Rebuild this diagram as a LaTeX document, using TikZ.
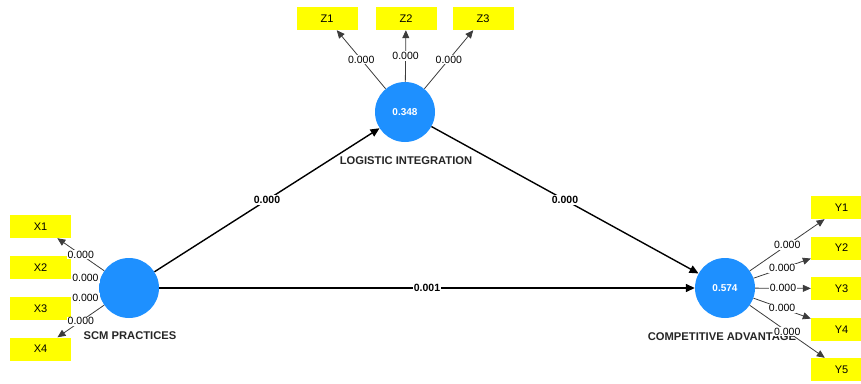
\documentclass[tikz,border=0pt]{standalone}
\usepackage{fontspec}
\setmainfont{Liberation Sans}
\usetikzlibrary{arrows.meta}
\definecolor{lvblue}{RGB}{30,144,255}
\definecolor{indyel}{RGB}{255,255,0}
\definecolor{loadgray}{RGB}{60,60,60}
\tikzset{
  latent/.style={circle, fill=lvblue, minimum size=60pt, inner sep=0pt, text=white, font=\fontsize{10}{11}\selectfont\bfseries},
  indbox/.style={rectangle, fill=indyel, minimum width=61pt, minimum height=23pt, inner sep=0pt, font=\fontsize{11}{12}\selectfont},
  lvname/.style={font=\fontsize{11.2}{12}\selectfont\bfseries, text=black!85, inner sep=0pt},
  structarrow/.style={draw=black, line width=1.4pt, -{Triangle[length=9pt,width=8pt]}},
  loadarrow/.style={draw=loadgray, line width=0.8pt, -{Triangle[length=8pt,width=7pt]}},
  coeflabel/.style={fill=white, inner sep=1pt, font=\fontsize{10.5}{11}\selectfont\bfseries},
  loadlabel/.style={fill=white, inner sep=1pt, font=\fontsize{10.5}{11}\selectfont}
}
\begin{document}
\begin{tikzpicture}[x=1pt, y=-1pt]
\useasboundingbox (0,0) rectangle (861,383);
% latent variables
\node[latent] (scm) at (129,288) {};
\node[latent] (li) at (405,112) {0.348};
\node[latent] (ca) at (725,288) {0.574};
% names
\node[lvname] (scmname) at (130,336) {SCM PRACTICES};
\node[lvname] (liname) at (406,161) {LOGISTIC INTEGRATION};
\node[lvname] (caname) at (722,337) {COMPETITIVE ADVANTAGE};
% indicators
\node[indbox] (z1) at (327,18.5) {Z1};
\node[indbox] (z2) at (406,18.5) {Z2};
\node[indbox] (z3) at (483,18.5) {Z3};
\node[indbox] (x1) at (40.5,226.5) {X1};
\node[indbox] (x2) at (40.5,267.5) {X2};
\node[indbox] (x3) at (40.5,308.5) {X3};
\node[indbox] (x4) at (40.5,349) {X4};
\node[indbox] (y1) at (841.5,207.5) {Y1};
\node[indbox] (y2) at (841.5,248) {Y2};
\node[indbox] (y3) at (841.5,288.5) {Y3};
\node[indbox] (y4) at (841.5,329.5) {Y4};
\node[indbox] (y5) at (841.5,369.5) {Y5};
% structural paths
\draw[structarrow] (scm) -- node[coeflabel, pos=0.5] {0.000} (li);
\draw[structarrow] (li) -- node[coeflabel, pos=0.5] {0.000} (ca);
\draw[structarrow] (scm) -- node[coeflabel, pos=0.5] {0.001} (ca);
% loadings
\foreach \t in {z1,z2,z3}{
  \draw[loadarrow] (li) -- node[loadlabel, pos=0.5] {0.000} (\t);
}
\foreach \t in {x1,x2,x3,x4}{
  \draw[loadarrow] (scm) -- node[loadlabel, pos=0.5] {0.000} (\t);
}
\foreach \t in {y1,y2,y3,y4,y5}{
  \draw[loadarrow] (ca) -- node[loadlabel, pos=0.5] {0.000} (\t);
}
\end{tikzpicture}
\end{document}
